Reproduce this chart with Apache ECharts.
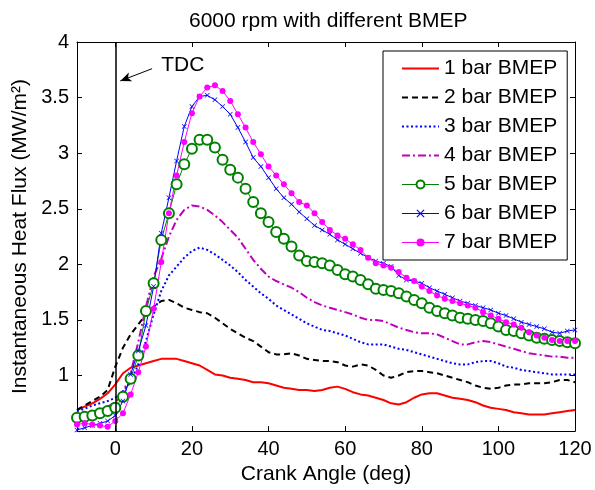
<!DOCTYPE html>
<html><head><meta charset="utf-8">
<script src="https://cdn.jsdelivr.net/npm/echarts@6/dist/echarts.min.js"></script>
<style>html,body{margin:0;padding:0;background:#fff}#c{width:595px;height:490px}</style>
</head><body><div id="c"></div>
<script>
const angle = [-10,-8,-6,-4,-2,0,2,4,6,8,10,12,14,16,18,20,22,24,26,28,30,32,34,36,38,40,42,44,46,48,50,52,54,56,58,60,62,64,66,68,70,72,74,76,78,80,82,84,86,88,90,92,94,96,98,100,102,104,106,108,110,112,114,116,118,120];
const bar1 = [0.69,0.72,0.75,0.79,0.84,0.92,1.02,1.07,1.09,1.11,1.13,1.15,1.15,1.15,1.13,1.11,1.09,1.05,1.01,1.00,0.98,0.97,0.96,0.94,0.94,0.93,0.91,0.89,0.88,0.87,0.87,0.86,0.87,0.89,0.90,0.88,0.85,0.83,0.82,0.80,0.78,0.75,0.74,0.76,0.80,0.83,0.84,0.84,0.82,0.80,0.79,0.78,0.76,0.73,0.71,0.70,0.69,0.67,0.66,0.65,0.65,0.65,0.66,0.67,0.68,0.69];
const bar2 = [0.69,0.73,0.77,0.81,0.87,1.08,1.25,1.37,1.46,1.55,1.62,1.67,1.68,1.65,1.61,1.59,1.57,1.56,1.52,1.47,1.42,1.38,1.34,1.31,1.26,1.21,1.19,1.19,1.20,1.18,1.15,1.14,1.13,1.13,1.12,1.09,1.08,1.10,1.09,1.05,1.00,0.98,1.00,1.03,1.04,1.04,1.03,1.02,1.00,0.98,0.96,0.94,0.91,0.89,0.88,0.89,0.91,0.92,0.92,0.93,0.93,0.93,0.94,0.96,0.96,0.94];
const bar3 = [0.68,0.70,0.73,0.75,0.77,0.80,0.86,0.94,1.10,1.31,1.55,1.76,1.90,1.98,2.06,2.12,2.15,2.13,2.09,2.04,1.99,1.93,1.86,1.80,1.74,1.69,1.63,1.59,1.55,1.51,1.47,1.44,1.41,1.40,1.38,1.36,1.33,1.30,1.28,1.28,1.28,1.26,1.24,1.23,1.21,1.19,1.17,1.15,1.13,1.11,1.10,1.10,1.12,1.13,1.13,1.11,1.08,1.07,1.05,1.04,1.03,1.02,1.01,1.01,1.01,1.01];
const bar4 = [0.63,0.65,0.67,0.69,0.72,0.76,0.84,1.02,1.30,1.62,1.89,2.05,2.25,2.40,2.49,2.53,2.52,2.49,2.44,2.38,2.31,2.24,2.14,2.04,1.96,1.89,1.85,1.82,1.79,1.75,1.70,1.66,1.63,1.61,1.59,1.57,1.55,1.52,1.50,1.50,1.49,1.46,1.43,1.41,1.39,1.38,1.38,1.37,1.34,1.31,1.28,1.28,1.30,1.31,1.30,1.28,1.26,1.24,1.22,1.20,1.19,1.18,1.17,1.17,1.16,1.16];
const bar5 = [0.62,0.63,0.64,0.66,0.68,0.71,0.81,0.97,1.18,1.58,1.83,2.22,2.46,2.72,2.90,3.04,3.12,3.12,3.05,2.94,2.85,2.78,2.68,2.56,2.46,2.38,2.29,2.23,2.16,2.08,2.03,2.02,2.01,1.99,1.95,1.91,1.89,1.86,1.82,1.78,1.77,1.76,1.74,1.71,1.68,1.65,1.61,1.58,1.56,1.54,1.52,1.51,1.50,1.49,1.47,1.44,1.41,1.40,1.38,1.36,1.34,1.33,1.32,1.31,1.30,1.29];
const bar6 = [0.51,0.53,0.55,0.57,0.59,0.64,0.77,1.01,1.22,1.45,1.80,2.28,2.60,2.93,3.24,3.42,3.51,3.52,3.48,3.42,3.35,3.23,3.10,2.96,2.88,2.78,2.68,2.60,2.54,2.47,2.41,2.35,2.31,2.27,2.22,2.18,2.14,2.10,2.06,2.03,2.01,1.98,1.90,1.86,1.85,1.83,1.79,1.76,1.73,1.70,1.67,1.65,1.63,1.61,1.59,1.56,1.54,1.51,1.48,1.46,1.44,1.42,1.39,1.38,1.40,1.41];
const bar7 = [0.56,0.57,0.56,0.55,0.54,0.59,0.66,0.83,1.03,1.26,1.60,2.02,2.46,2.80,3.10,3.36,3.51,3.59,3.61,3.56,3.47,3.35,3.23,3.10,2.99,2.88,2.80,2.72,2.64,2.56,2.53,2.46,2.38,2.31,2.26,2.23,2.18,2.13,2.06,2.01,1.99,1.97,1.93,1.88,1.85,1.80,1.76,1.72,1.69,1.67,1.65,1.63,1.61,1.57,1.54,1.51,1.48,1.46,1.43,1.39,1.36,1.34,1.32,1.31,1.31,1.31];
const names = ['1 bar BMEP','2 bar BMEP','3 bar BMEP','4 bar BMEP','5 bar BMEP','6 bar BMEP','7 bar BMEP'];
const xTicks = [0,20,40,60,80,100,120];

const FONT = 'Liberation Sans';
const pair = a => angle.map((x,i)=>[x,a[i]]);
const xPath = 'path://M0,1L1,0L5,4L9,0L10,1L6,5L10,9L9,10L5,6L1,10L0,9L4,5Z';
const base = {type:'line', clip:true, animation:false, silent:true};
const series = [
  Object.assign({}, base, {name:names[0], data:pair(bar1), symbol:'none', lineStyle:{color:'#ff0000', width:2}, itemStyle:{color:'#ff0000'}}),
  Object.assign({}, base, {name:names[1], data:pair(bar2), symbol:'none', lineStyle:{color:'#000000', width:2, type:[6,4]}, itemStyle:{color:'#000000'}}),
  Object.assign({}, base, {name:names[2], data:pair(bar3), symbol:'none', lineStyle:{color:'#0000ff', width:2, type:[2,2.5]}, itemStyle:{color:'#0000ff'}}),
  Object.assign({}, base, {name:names[3], data:pair(bar4), symbol:'none', lineStyle:{color:'#bf00bf', width:2, type:[8,3,2,3]}, itemStyle:{color:'#bf00bf'}}),
  Object.assign({}, base, {name:names[4], data:pair(bar5), symbol:'emptyCircle', symbolSize:10, showAllSymbol:true, lineStyle:{color:'#008000', width:1}, itemStyle:{color:'#008000', borderColor:'#008000', borderWidth:1}}),
  Object.assign({}, base, {name:names[5], data:pair(bar6), symbol:xPath, symbolSize:5, showAllSymbol:true, lineStyle:{color:'#0000ff', width:1}, itemStyle:{color:'#0000ff'}}),
  Object.assign({}, base, {name:names[6], data:pair(bar7), symbol:'circle', symbolSize:6, showAllSymbol:true, lineStyle:{color:'#ff00ff', width:1}, itemStyle:{color:'#ff00ff'}}),
  {type:'line', data:[], silent:true, animation:false,
   markLine:{silent:true, animation:false, label:{show:false},
     data:[
       [{coord:[0,0.5], symbol:'none', lineStyle:{color:'#000', width:1.5, type:'solid'}},{coord:[0,4], symbol:'none'}],
       [{coord:[9.6,3.76], symbol:'none', lineStyle:{color:'#000', width:1, type:'solid'}},{coord:[1.3,3.65], symbol:'arrow', symbolSize:[7,11]}]
     ]}}
];

const legendData = names.map((n,i)=> i<4 ? {name:n, itemStyle:{opacity:0}} : {name:n, lineStyle:{width:1}, itemStyle:{borderWidth:1}});

const axisCommon = {axisLine:{show:true, onZero:false, lineStyle:{color:'#000', width:1}}, splitLine:{show:false}};
const chart = echarts.init(document.getElementById('c'), null, {renderer:'canvas'});
chart.setOption({
  animation:false,
  backgroundColor:'#fff',
  title:{text:'6000 rpm with different BMEP', left:184, top:6, textStyle:{fontFamily:FONT, fontSize:21, fontWeight:'normal', color:'#000'}},
  grid:{left:77, right:20, top:42, bottom:56.5, containLabel:false},
  legend:{data:legendData, orient:'vertical', left:383, top:51, padding:[7,10,7,18], itemGap:8, itemWidth:37, itemHeight:10,
    backgroundColor:'#fff', borderColor:'#000', borderWidth:1, borderRadius:0,
    textStyle:{fontFamily:FONT, fontSize:21, color:'#000', padding:[0,0,0,0]}, selectedMode:false},
  xAxis:[
    Object.assign({}, axisCommon, {type:'value', min:-10, max:120, position:'bottom',
      name:'Crank Angle (deg)', nameLocation:'middle', nameGap:31, nameTextStyle:{fontFamily:FONT, fontSize:21, color:'#000'},
      axisTick:{show:true, inside:true, length:5, customValues:xTicks, lineStyle:{color:'#000'}},
      axisLabel:{show:true, customValues:xTicks, margin:8, fontFamily:FONT, fontSize:20, color:'#000'}}),
    Object.assign({}, axisCommon, {type:'value', min:-10, max:120, position:'top',
      axisTick:{show:true, inside:true, length:5, customValues:xTicks, lineStyle:{color:'#000'}},
      axisLabel:{show:false}})
  ],
  yAxis:[
    Object.assign({}, axisCommon, {type:'value', min:0.5, max:4, interval:0.5, position:'left',
      name:'Instantaneous Heat Flux (MW/m\u00B2)', nameLocation:'middle', nameGap:46, nameRotate:90,
      nameTextStyle:{fontFamily:FONT, fontSize:21, color:'#000'},
      axisTick:{show:true, inside:true, length:5, lineStyle:{color:'#000'}},
      axisLabel:{show:true, showMinLabel:false, margin:8, fontFamily:FONT, fontSize:20, color:'#000',
        formatter:v=> v===0.5 ? '' : String(v)}}),
    Object.assign({}, axisCommon, {type:'value', min:0.5, max:4, interval:0.5, position:'right',
      axisTick:{show:true, inside:true, length:5, lineStyle:{color:'#000'}},
      axisLabel:{show:false}})
  ],
  series:series
});
const p = chart.convertToPixel({gridIndex:0}, [17.6, 3.79]);
chart.setOption({graphic:[{type:'text', x:p[0], y:p[1], style:{text:'TDC', fontFamily:FONT, fontSize:21, fill:'#000', textAlign:'center', textVerticalAlign:'middle'}}]});
</script></body></html>
